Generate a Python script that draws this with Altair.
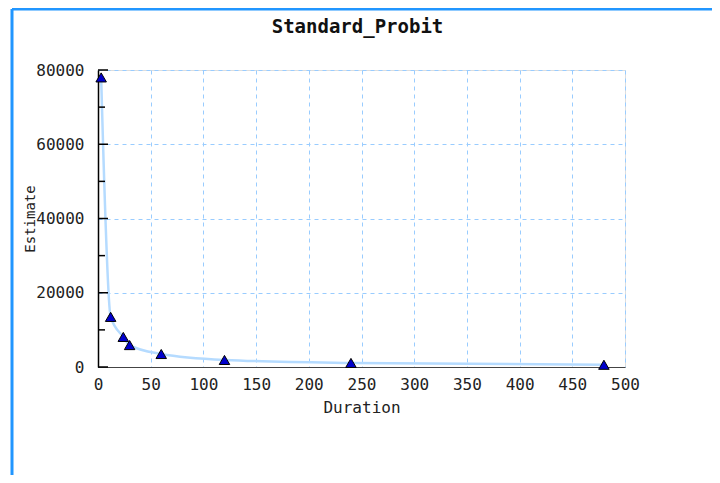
import altair as alt
import pandas as pd

duration = [3, 12, 24, 30, 60, 120, 240, 480]
estimate = [78000, 13500, 8100, 5900, 3500, 1900, 1100, 600]
major_ticks = [0, 20000, 40000, 60000, 80000]
minor_ticks = [10000, 30000, 50000, 70000]
x_ticks = [0, 50, 100, 150, 200, 250, 300, 350, 400, 450, 500]
title_text = ["Standard_Probit"]

df = pd.DataFrame({"Duration": duration, "Estimate": estimate})
maj = pd.DataFrame({"v": major_ticks})
mino = pd.DataFrame({"v": minor_ticks})
tdf = pd.DataFrame({"t": title_text})

FONT = "DejaVu Sans Mono"
W, H = 527, 297
PL, PT = 90, 62
TOTAL_W, TOTAL_H = 704, 467

xs = alt.Scale(domain=[0, 500], nice=False)
ys = alt.Scale(domain=[0, 80000], nice=False)

base = alt.Chart(df)

line = base.mark_line(color="#b5dbff", strokeWidth=2.5, interpolate="monotone").encode(
    x=alt.X("Duration:Q", scale=xs,
            axis=alt.Axis(values=x_ticks, title="Duration", grid=True, gridColor="#99ccff",
                          gridDash=[4, 4], gridWidth=1, ticks=False, domainColor="#444444",
                          labelPadding=9, titlePadding=7, labelFont=FONT, titleFont=FONT,
                          labelFontSize=16, titleFontSize=16, titleFontWeight="normal",
                          labelColor="#222222", titleColor="#222222", labelFlush=False)),
    y=alt.Y("Estimate:Q", scale=ys,
            axis=alt.Axis(values=major_ticks, title="Estimate", grid=True, gridColor="#99ccff",
                          gridDash=[4, 4], gridWidth=1, ticks=False, domainColor="#000000",
                          domainWidth=1.5, labelPadding=14, labelFont=FONT, titleFont=FONT,
                          labelFontSize=16, titleFontSize=14, titleFontWeight="normal",
                          labelColor="#222222", titleColor="#222222",
                          titleX=-68, titleY=H / 2, titleAngle=-90, titleAlign="center",
                          titleBaseline="middle", labelFlush=False, format="d")),
)

pts = base.mark_point(shape="triangle-up", size=110, filled=True, fill="#0000cc",
                      stroke="#000000", strokeWidth=1, opacity=1).encode(
    x=alt.X("Duration:Q", scale=xs),
    y=alt.Y("Estimate:Q", scale=ys),
)

major = alt.Chart(maj).mark_rule(color="#000000", strokeWidth=1.5).encode(
    y=alt.Y("v:Q", scale=ys), x=alt.value(0), x2=alt.value(10))
minor = alt.Chart(mino).mark_rule(color="#000000", strokeWidth=1.5).encode(
    y=alt.Y("v:Q", scale=ys), x=alt.value(0), x2=alt.value(7))

frame_top = alt.Chart(tdf).mark_rule(color="#2196ff", strokeWidth=3).encode(
    x=alt.value(-86), x2=alt.value(TOTAL_W - PL), y=alt.value(-61))
frame_left = alt.Chart(tdf).mark_rule(color="#2196ff", strokeWidth=3).encode(
    x=alt.value(-86), y=alt.value(-61), y2=alt.value(TOTAL_H - PT))

title = alt.Chart(tdf).mark_text(font=FONT, fontSize=19, fontWeight="bold",
                                 color="#111111", baseline="middle", align="center").encode(
    text="t:N", x=alt.value(W / 2 - 4), y=alt.value(-43))

chart = alt.layer(frame_top, frame_left, line, major, minor, pts, title).properties(
    width=W, height=H,
    autosize=alt.AutoSizeParams(type="none"),
    padding={"left": PL, "top": PT, "right": TOTAL_W - PL - W, "bottom": TOTAL_H - PT - H},
).configure_view(fill="#eef6ff", stroke=None).configure(background="white")

chart.save("out.html", embed_options={"renderer": "svg", "actions": False})
